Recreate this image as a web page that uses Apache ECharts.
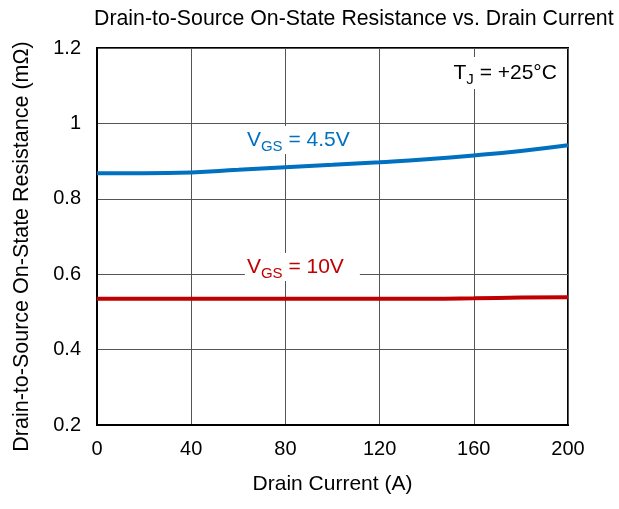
<!DOCTYPE html>
<html>
<head>
<meta charset="utf-8">
<script src="https://cdn.jsdelivr.net/npm/echarts@6/dist/echarts.min.js"></script>
<style>html,body{margin:0;padding:0;background:#fff;}#c{width:619px;height:509px;}</style>
</head>
<body>
<div id="c"></div>
<script>
var drainCurrent = [0, 20, 40, 60, 80, 100, 120, 140, 160, 180, 200];
var rdsVgs45 = [0.868, 0.868, 0.870, 0.877, 0.884, 0.890, 0.897, 0.905, 0.915, 0.927, 0.942];
var rdsVgs10 = [0.535, 0.535, 0.535, 0.535, 0.535, 0.535, 0.535, 0.535, 0.536, 0.538, 0.539];
var xTicks = [0, 40, 80, 120, 160, 200];
var yTicks = [0.2, 0.4, 0.6, 0.8, 1, 1.2];

var FONT = 'Liberation Sans, Arial, sans-serif';
function pairs(xs, ys) { return xs.map(function (x, i) { return [x, ys[i]]; }); }
function richLabel(color) {
  return {
    m: { fontSize: 21, color: color, fontFamily: FONT, lineHeight: 28, verticalAlign: 'middle' },
    s: { fontSize: 15, color: color, fontFamily: FONT, lineHeight: 15, verticalAlign: 'bottom' }
  };
}
function annot(coord, text, color, align, padding) {
  return {
    coord: coord,
    symbol: 'rect',
    symbolSize: 0,
    label: {
      show: true,
      position: [0, 0],
      align: align,
      verticalAlign: 'middle',
      formatter: text,
      backgroundColor: '#fff',
      padding: padding,
      rich: richLabel(color)
    }
  };
}

var chart = echarts.init(document.getElementById('c'), null, { renderer: 'canvas' });
chart.setOption({
  animation: false,
  backgroundColor: '#fff',
  title: {
    text: 'Drain-to-Source On-State Resistance vs. Drain Current',
    left: 89, top: 4,
    textStyle: { fontFamily: FONT, fontSize: 21.3, fontWeight: 'normal', color: '#000' }
  },
  grid: { left: 97, right: 51, top: 48, bottom: 84, show: true, borderColor: '#000', borderWidth: 2, backgroundColor: 'transparent' },
  xAxis: {
    type: 'value', min: 0, max: 200, interval: 40,
    name: 'Drain Current (A)', nameLocation: 'middle', nameGap: 49,
    nameTextStyle: { fontFamily: FONT, fontSize: 21, color: '#000' },
    axisLine: { show: true, lineStyle: { color: '#000', width: 2 } },
    axisTick: { show: false },
    axisLabel: { fontFamily: FONT, fontSize: 20, color: '#000', margin: 14,
      formatter: function (v) { return xTicks.indexOf(v) >= 0 ? String(v) : ''; } },
    splitLine: { show: true, lineStyle: { color: '#555', width: 1 } }
  },
  yAxis: {
    type: 'value', min: 0.2, max: 1.2, interval: 0.2,
    name: 'Drain-to-Source On-State Resistance (m\u03A9)', nameLocation: 'middle', nameGap: 64,
    nameTextStyle: { fontFamily: FONT, fontSize: 21.5, color: '#000', padding: [0, 20, 0, 0] },
    axisLine: { show: true, lineStyle: { color: '#000', width: 2 } },
    axisTick: { show: false },
    axisLabel: { fontFamily: FONT, fontSize: 20, color: '#000', margin: 16,
      formatter: function (v) {
        var r = Math.round(v * 10) / 10;
        for (var i = 0; i < yTicks.length; i++) if (Math.abs(yTicks[i] - r) < 1e-6) return String(yTicks[i]);
        return '';
      } },
    splitLine: { show: true, lineStyle: { color: '#555', width: 1 } }
  },
  series: [
    {
      type: 'line', name: 'VGS=4.5V', data: pairs(drainCurrent, rdsVgs45),
      smooth: true, showSymbol: false, lineStyle: { color: '#0070C0', width: 4 },
      z: 3,
      markPoint: { silent: true, data: [ annot([62.8, 0.956], '{m|V}{s|GS}{m| = 4.5V}', '#0070C0', 'left', [0, 13, 0, 2]) ] }
    },
    {
      type: 'line', name: 'VGS=10V', data: pairs(drainCurrent, rdsVgs10),
      smooth: true, showSymbol: false, lineStyle: { color: '#C00000', width: 4 },
      z: 3,
      markPoint: { silent: true, data: [
        annot([62.8, 0.619], '{m|V}{s|GS}{m| = 10V}', '#C00000', 'left', [0, 16, 0, 2]),
        annot([195.3, 1.134], '{m|T}{s|J}{m| = +25\u00B0C}', '#000', 'right', [2, 0, 2, 4])
      ] }
    }
  ]
});
</script>
</body>
</html>
